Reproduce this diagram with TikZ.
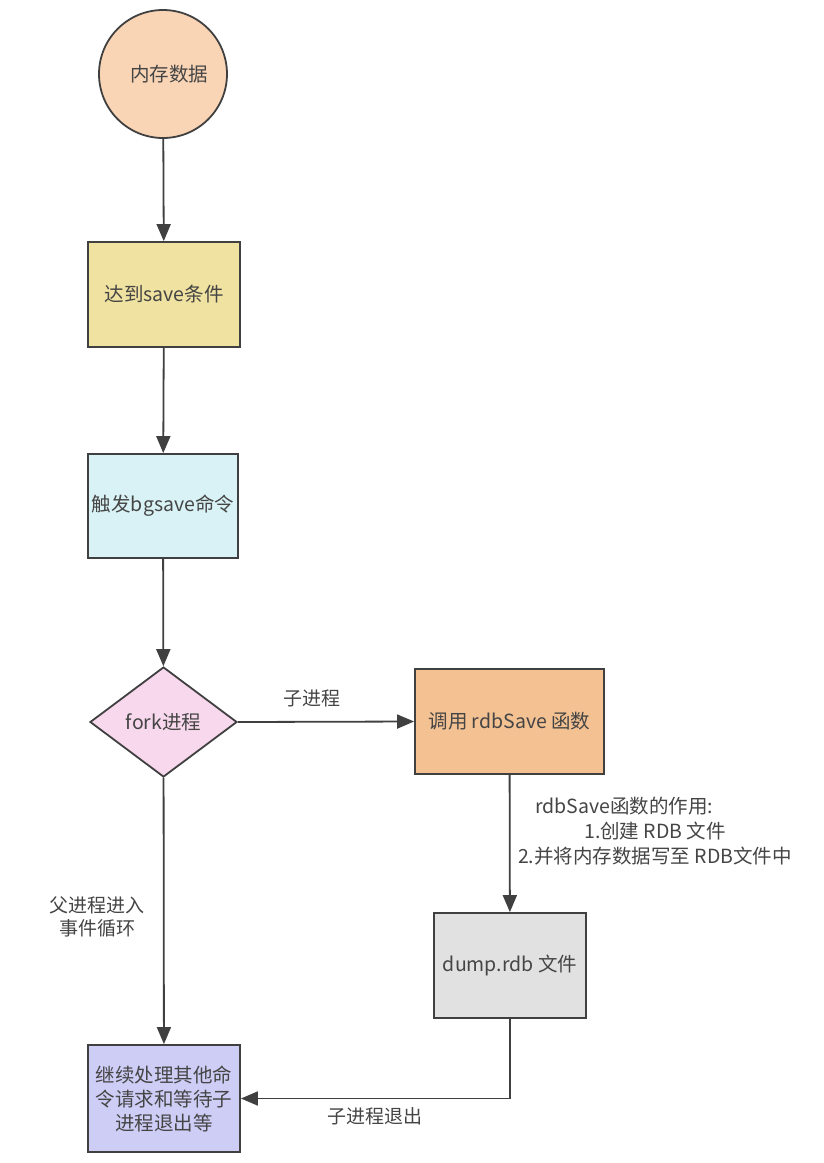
\documentclass[tikz,border=0pt]{standalone}
\usepackage{fontspec}
\setmainfont{Noto Sans CJK SC}
\usetikzlibrary{shapes.geometric,arrows.meta}
\definecolor{linec}{HTML}{404040}
\definecolor{textc}{HTML}{454545}
\definecolor{cPeach}{HTML}{F9D5B5}
\definecolor{cYellow}{HTML}{F0E2A0}
\definecolor{cCyan}{HTML}{D9F2F5}
\definecolor{cPink}{HTML}{F8D8EC}
\definecolor{cOrange}{HTML}{F3C192}
\definecolor{cGrey}{HTML}{E1E1E1}
\definecolor{cLav}{HTML}{CDCDF6}
\begin{document}
\begin{tikzpicture}[x=1pt,y=-1pt,
  shp/.style={draw=linec, line width=1.8pt, text=textc, font=\fontsize{19.5}{24}\selectfont, align=center, inner sep=0pt},
  box/.style={shp, rectangle, minimum width=152pt, minimum height=105pt},
  arr/.style={draw=linec, line width=1.8pt, -{Triangle[length=17pt,width=14pt]}},
  lbl/.style={text=textc, font=\fontsize{19}{23}\selectfont, align=center, inner sep=0pt}]
\useasboundingbox[fill=white] (0,0) rectangle (823,1163);
\node[shp, circle, fill=cPeach, minimum size=128pt] (c) at (163,74) {\hspace{12pt}内存数据};
\node[box, fill=cYellow] (s1) at (164,294.5) {达到save条件};
\node[box, fill=cCyan, minimum width=150pt, minimum height=104pt] (s2) at (163,506) {触发bgsave命令};
\node[shp, diamond, fill=cPink, minimum width=147pt, minimum height=110pt] (d) at (163.5,722) {fork进程};
\node[box, fill=cOrange, minimum width=189pt] (r) at (509.5,721.5) {调用 rdbSave 函数};
\node[box, fill=cGrey] (dm) at (510,965.5) {dump.rdb 文件};
\node[box, fill=cLav, minimum height=107pt] (b) at (164,1098.5) {继续处理其他命\\令请求和等待子\\进程退出等};
\draw[arr] (c) -- (s1);
\draw[arr] (s1) -- (s2);
\draw[arr] (s2) -- (d);
\draw[arr] (d.east) -- (r.west) node[lbl, pos=0.42, above=14pt] (l1) {子进程};
\draw[arr] (r) -- (dm);
\draw[arr] (d) -- (b);
\draw[arr] (dm.south) |- (b.east) node[lbl, pos=0.75, below=8pt] (l2) {子进程退出};
\node[lbl] (l3) at (97,917) {父进程进入\\事件循环};
\node[lbl, font=\fontsize{19.5}{25}\selectfont] (l4) at (655,831) {rdbSave函数的作用:\hspace*{62pt}\\1.创建 RDB 文件\hspace*{40pt}\\2.并将内存数据写至 RDB文件中};
\end{tikzpicture}
\end{document}
